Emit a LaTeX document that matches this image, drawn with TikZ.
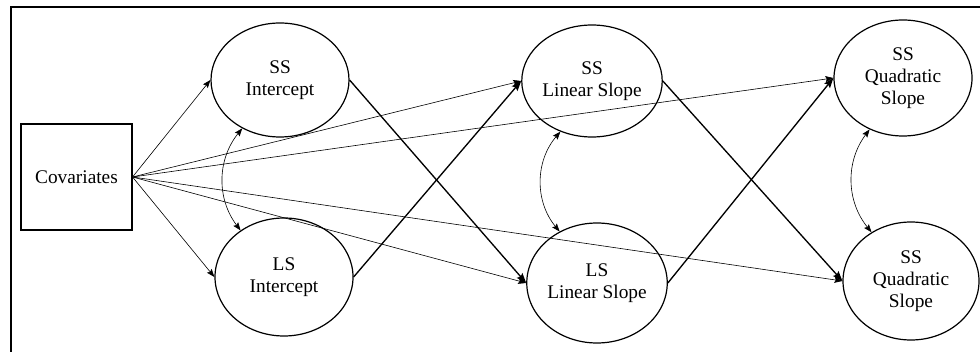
\documentclass[tikz,border=0pt]{standalone}
\usepackage{fontspec}
\setmainfont{Liberation Serif}
\usetikzlibrary{shapes.geometric,arrows.meta}
\tikzset{
  lat/.style={ellipse, draw, line width=0.9pt, inner sep=0pt, align=center,
              font=\fontsize{14.5}{16.5}\selectfont},
  obs/.style={rectangle, draw, line width=0.8pt, inner sep=0pt, align=center,
              font=\fontsize{14.5}{16.5}\selectfont},
  thin/.style={line width=0.45pt, -{Stealth[length=6pt,width=4.5pt,inset=1pt]}},
  thick/.style={line width=1pt, -{Stealth[length=7.5pt,width=5.5pt,inset=1.2pt]}},
  cov/.style={line width=0.45pt, {Stealth[length=6pt,width=4.5pt,inset=1pt]}-{Stealth[length=6pt,width=4.5pt,inset=1pt]}},
}
\begin{document}
\begin{tikzpicture}[x=0.75pt,y=-0.75pt]
\useasboundingbox (0,0) rectangle (980,352);
\clip (0,0) rectangle (980,352);
\draw[line width=2pt] (11,7) rectangle (1000,370);

\node[obs, minimum width=83.25pt, minimum height=79.5pt] (covs) at (76.5,177) {Covariates};

\node[lat, minimum width=103.5pt, minimum height=85.5pt] (ssint) at (280,80) {SS\\Intercept};
\node[lat, minimum width=103.5pt, minimum height=88.5pt] (lsint) at (284,277) {LS\\Intercept};
\node[lat, minimum width=102pt, minimum height=84pt] (sslin) at (592,81) {SS\\Linear Slope};
\node[lat, minimum width=100.5pt, minimum height=90pt] (lslin) at (597,283) {LS\\Linear Slope};
\node[lat, minimum width=103.5pt, minimum height=87pt] (ssqt) at (903,78) {SS\\Quadratic\\Slope};
\node[lat, minimum width=102pt, minimum height=88.5pt] (ssqb) at (911,281) {SS\\Quadratic\\Slope};

% covariate paths
\draw[thin] (covs.east) -- (ssint.west);
\draw[thin] (covs.east) -- (lsint.west);
\draw[thin] (covs.east) -- (sslin.west);
\draw[thin] (covs.east) -- (lslin.west);
\draw[thin] (covs.east) -- (ssqt.west);
\draw[thin] (covs.east) -- (ssqb.west);

% cross-lagged paths
\draw[thick] (ssint.east) -- (lslin.west);
\draw[thick] (lsint.east) -- (sslin.west);
\draw[thick] (sslin.east) -- (ssqb.west);
\draw[thick] (lslin.east) -- (ssqt.west);

% covariances
\draw[cov] (ssint.232) to[bend right=38] (lsint.133);
\draw[cov] (sslin.238) to[bend right=40] (lslin.126);
\draw[cov] (ssqt.237) to[bend right=38] (ssqb.129);
\end{tikzpicture}
\end{document}
